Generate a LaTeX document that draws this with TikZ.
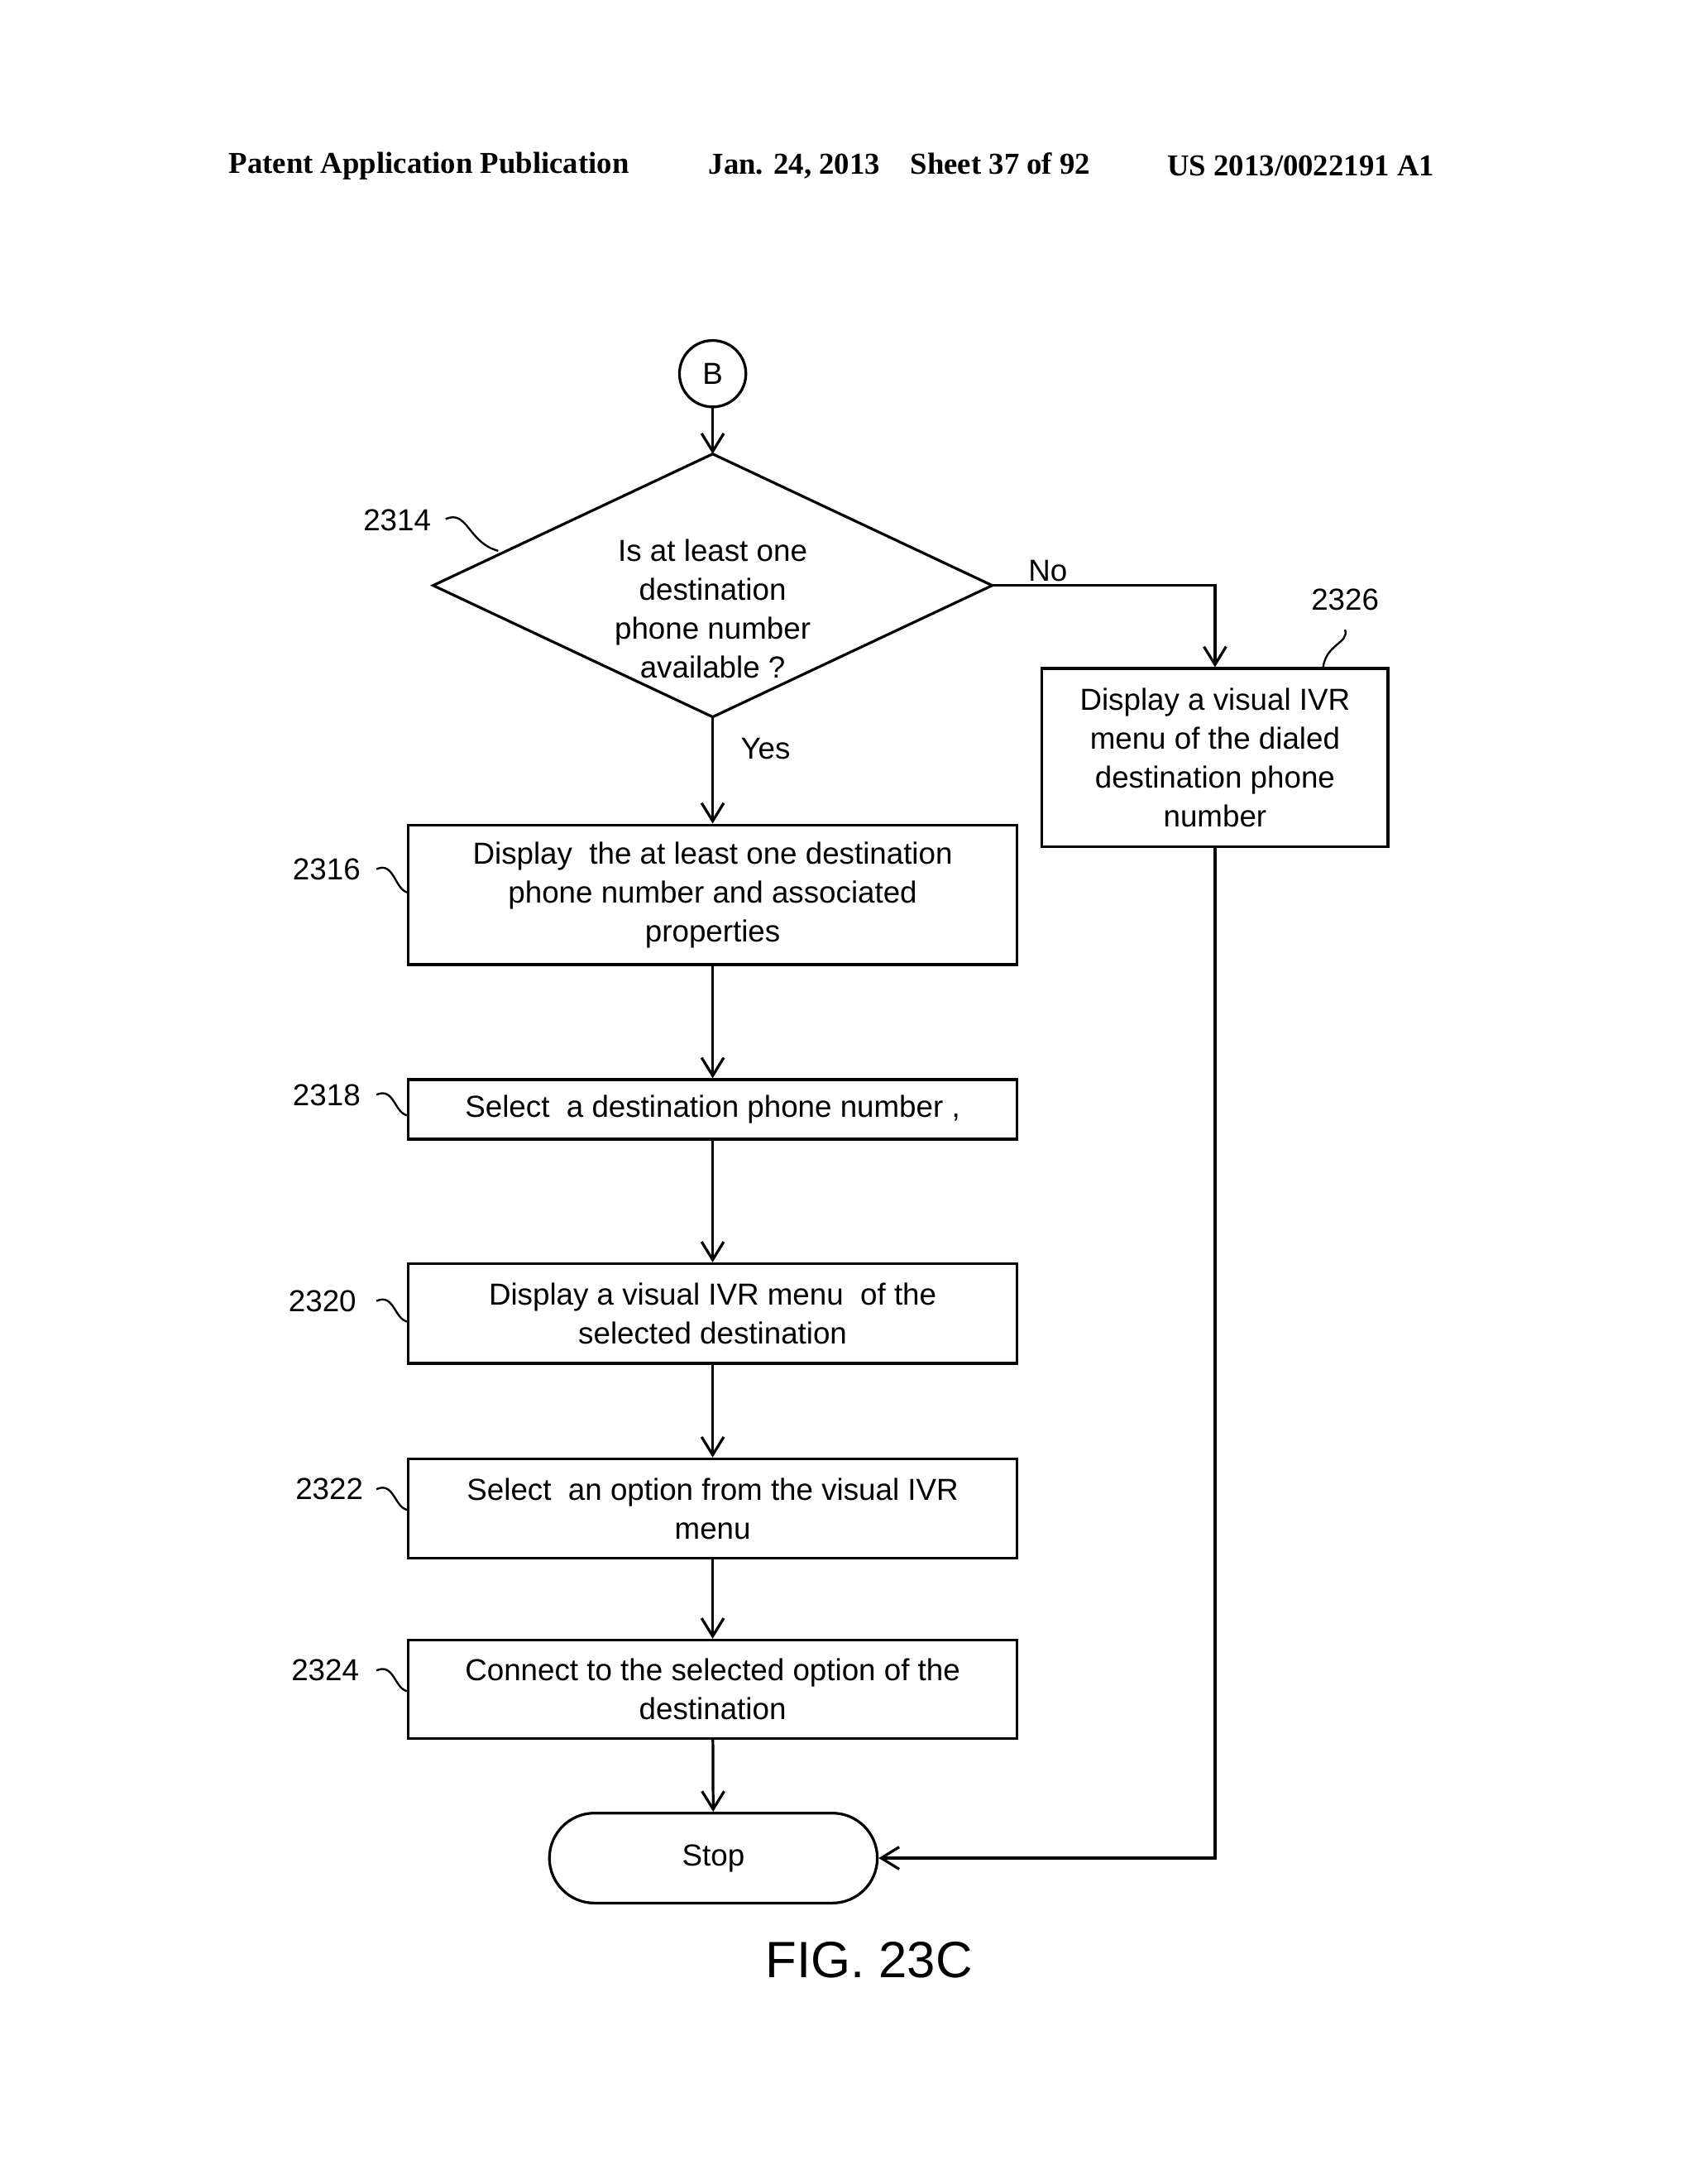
\documentclass[tikz,border=0pt]{standalone}
\usepackage{fontspec}
\setmainfont{Liberation Sans}
\newfontfamily\hdfont{Liberation Serif}
\usetikzlibrary{arrows.meta}
\begin{document}
\begin{tikzpicture}[x=0.02cm,y=-0.02cm,line width=1.1pt,
  box/.style={draw,rectangle,align=center,inner sep=2pt,minimum width=8.8cm,
    font=\fontsize{12.5}{16}\selectfont},
  lbl/.style={font=\fontsize{12.5}{16}\selectfont,inner sep=1pt},
  arr/.style={-{Straight Barb[length=2.6mm,width=3.2mm]}},
  lead/.style={line width=0.8pt},
  hd/.style={font=\hdfont\bfseries\fontsize{12.5}{15}\selectfont,inner sep=0pt}]
\useasboundingbox (0,0) rectangle (1224,1578);
% header
\node[hd] (h1) at (310,120) {Patent Application Publication};
\node[hd] (h2) at (650,120) {Jan. 24, 2013\quad Sheet 37 of 92};
\node[hd] (h3) at (940,120) {US 2013/0022191 A1};
% connector B
\node[draw,circle,minimum size=0.96cm,inner sep=0pt,lbl] (B) at (515,270) {B};
% decision
\coordinate (dt) at (515,328);
\coordinate (dl) at (313,423);
\coordinate (dr) at (717,423);
\coordinate (db) at (515,518);
\draw (dt) -- (dr) -- (db) -- (dl) -- cycle;
\node[lbl,align=center] (q) at (515,440) {Is at least one\\destination\\phone number\\available ?};
% boxes
\node[box,minimum height=2.02cm] (s2316) at (515,646.5) {Display\ \ the at least one destination\\phone number and associated\\properties};
\node[box,minimum height=0.86cm] (s2318) at (515,801.5) {Select\ \ a destination phone number ,};
\node[box,minimum height=1.44cm] (s2320) at (515,949) {Display a visual IVR menu\ \ of the\\selected destination};
\node[box,minimum height=1.44cm] (s2322) at (515,1090) {Select\ \ an option from the visual IVR\\menu};
\node[box,minimum height=1.42cm] (s2324) at (515,1220.5) {Connect to the selected option of the\\destination};
\node[box,minimum width=5.0cm,minimum height=2.58cm] (s2326) at (878,547.5) {Display a visual IVR\\menu of the dialed\\destination phone\\number};
\node[draw,rectangle,rounded corners=0.65cm,minimum width=4.74cm,minimum height=1.3cm,lbl] (stop) at (515.5,1342.5) {Stop};
% connectors
\draw[arr] (B) -- (dt);
\draw[arr] (db) -- node[lbl,right=10pt,pos=0.3] {Yes} (s2316);
\draw[arr] (dr) -- node[lbl,above,pos=0.25] {No} (dr -| s2326) -- (s2326);
\draw[arr] (s2316) -- (s2318);
\draw[arr] (s2318) -- (s2320);
\draw[arr] (s2320) -- (s2322);
\draw[arr] (s2322) -- (s2324);
\draw[arr] (s2324) -- (stop);
\draw[arr] (s2326) |- (stop);
% reference labels
\node[lbl] (r2314) at (287,376) {2314};
\node[lbl] (r2316) at (236,628) {2316};
\node[lbl] (r2318) at (236,791) {2318};
\node[lbl] (r2320) at (233,940) {2320};
\node[lbl] (r2322) at (238,1076) {2322};
\node[lbl] (r2324) at (235,1207) {2324};
\node[lbl] (r2326) at (972,433) {2326};
\draw[lead] (322,375) .. controls (338,368) and (338,392) .. (360,398);
\draw[lead] (272,628) .. controls (285,622) and (285,643) .. (295,645);
\draw[lead] (272,791) .. controls (285,785) and (285,805) .. (295,806);
\draw[lead] (272,940) .. controls (285,934) and (285,954) .. (295,955);
\draw[lead] (272,1076) .. controls (285,1070) and (285,1090) .. (295,1091);
\draw[lead] (272,1207) .. controls (285,1201) and (285,1221) .. (295,1222);
\draw[lead] (972,455) .. controls (975,465) and (958,465) .. (956,483);
\node[font=\fontsize{21}{25}\selectfont] (fig) at (628,1416) {FIG. 23C};
\end{tikzpicture}
\end{document}
